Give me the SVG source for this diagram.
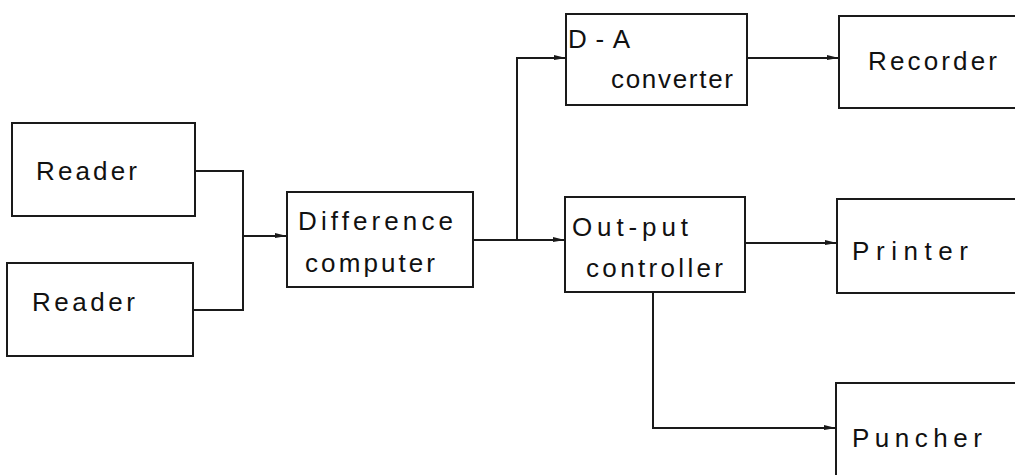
<svg xmlns="http://www.w3.org/2000/svg" width="1015" height="475" viewBox="0 0 1015 475">
<style>
.box{fill:#fff;stroke:#1a1a1a;stroke-width:2}
.lbl{font-family:"Liberation Sans",Arial,sans-serif;font-size:26px;fill:#111}
.con{fill:none;stroke:#1a1a1a;stroke-width:2}
</style>
<defs>
<marker id="ah" markerWidth="12" markerHeight="8" refX="12" refY="4" orient="auto" markerUnits="userSpaceOnUse">
<path d="M0,1 L12,4 L0,6 Z" fill="#1a1a1a"/>
</marker>
</defs>
<rect width="1015" height="475" fill="#fff"/>
<g id="connectors">
<path class="con" d="M195,171 H243 V310 H193"/>
<path class="con" d="M243,236 H287" marker-end="url(#ah)"/>
<path class="con" d="M473,240 H517 V58 H566" marker-end="url(#ah)"/>
<path class="con" d="M517,240 H565" marker-end="url(#ah)"/>
<path class="con" d="M747,58 H839" marker-end="url(#ah)"/>
<path class="con" d="M745,243 H837" marker-end="url(#ah)"/>
<path class="con" d="M653,292 V428 H836" marker-end="url(#ah)"/>
</g>
<g id="reader1"><rect class="box" x="12" y="123" width="183" height="93"/><text class="lbl" x="36" y="180" textLength="101" lengthAdjust="spacing">Reader</text></g>
<g id="reader2"><rect class="box" x="7" y="263" width="186" height="93"/><text class="lbl" x="32" y="311" textLength="103" lengthAdjust="spacing">Reader</text></g>
<g id="difference"><rect class="box" x="287" y="192" width="186" height="95"/><text class="lbl" x="298" y="230" textLength="155" lengthAdjust="spacing">Difference</text><text class="lbl" x="305" y="272" textLength="130" lengthAdjust="spacing">computer</text></g>
<g id="da"><rect class="box" x="566" y="14" width="181" height="91"/><text class="lbl" x="568" y="48" textLength="62" lengthAdjust="spacing">D-A</text><text class="lbl" x="611" y="88" textLength="122" lengthAdjust="spacing">converter</text></g>
<g id="recorder"><rect class="box" x="839" y="16" width="190" height="92"/><text class="lbl" x="868" y="70" textLength="129" lengthAdjust="spacing">Recorder</text></g>
<g id="output"><rect class="box" x="565" y="197" width="180" height="95"/><text class="lbl" x="572" y="236" textLength="116" lengthAdjust="spacing">Out-put</text><text class="lbl" x="586" y="277" textLength="137" lengthAdjust="spacing">controller</text></g>
<g id="printer"><rect class="box" x="837" y="199" width="190" height="94"/><text class="lbl" x="852" y="260" textLength="116" lengthAdjust="spacing">Printer</text></g>
<g id="puncher"><rect class="box" x="836" y="383" width="190" height="110"/><text class="lbl" x="852" y="447" textLength="130" lengthAdjust="spacing">Puncher</text></g>
</svg>
